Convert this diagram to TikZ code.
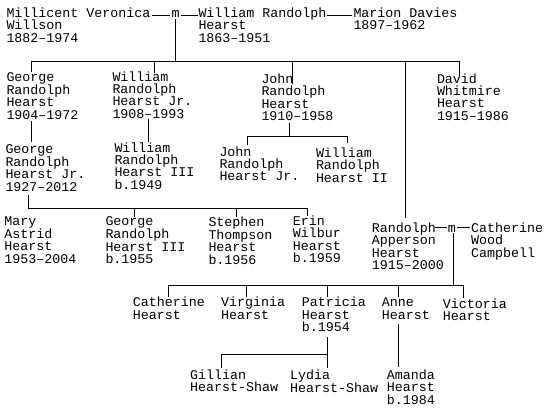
\documentclass[tikz,border=0pt]{standalone}
\usepackage{fontspec}
\newfontfamily\monofam{Liberation Mono}
\newcommand\st{\rule{0pt}{10pt}}
\tikzset{
  person/.style={anchor=north west, inner sep=0pt, outer sep=0pt, align=left,
    font=\monofam\fontsize{13.33}{12.4}\selectfont},
  link/.style={line width=1pt, line join=miter},
}
\begin{document}
\begin{tikzpicture}[x=1pt,y=-1pt]
\useasboundingbox[fill=white] (0,0) rectangle (550,413);
% generation 1
\node[person] (millicent) at (6.5,7.5) {\st Millicent Veronica\\Willson\\1882–1974};
\node[person] (m1) at (171.5,7.5) {\st m};
\node[person] (william) at (198.5,7.5) {\st William Randolph\\Hearst\\1863–1951};
\node[person] (marion) at (353.5,7.5) {\st Marion Davies\\1897–1962};
% generation 2
\node[person] (george) at (6.5,71) {\st George\\Randolph\\Hearst\\1904–1972};
\node[person] (williamjr) at (112.5,71) {\st William\\Randolph\\Hearst Jr.\\1908–1993};
\node[person] (john) at (261.5,73.5) {\st John\\Randolph\\Hearst\\1910–1958};
\node[person] (david) at (437,73) {\st David\\Whitmire\\Hearst\\1915–1986};
% generation 3
\node[person] (georgejr) at (5.5,143) {\st George\\Randolph\\Hearst Jr.\\1927–2012};
\node[person] (williamiii) at (114.5,142) {\st William\\Randolph\\Hearst III\\b.1949};
\node[person] (johnjr) at (219.5,146) {\st John\\Randolph\\Hearst Jr.};
\node[person] (williamii) at (316,147.5) {\st William\\Randolph\\Hearst II};
\node[person] (randolph) at (371.8,222.3) {\st Randolph\\Apperson\\Hearst\\1915–2000};
\node[person] (m2) at (447.8,222.3) {\st m};
\node[person] (catherinewc) at (471.2,222.3) {\st Catherine\\Wood\\Campbell};
% generation 4
\node[person] (mary) at (4.5,215) {\st Mary\\Astrid\\Hearst\\1953–2004};
\node[person] (georgeiii) at (105.5,215.5) {\st George\\Randolph\\Hearst III\\b.1955};
\node[person] (stephen) at (208.5,216) {\st Stephen\\Thompson\\Hearst\\b.1956};
\node[person] (erin) at (292.8,215.5) {\st Erin\\Wilbur\\Hearst\\b.1959};
\node[person] (catherine) at (132.8,296.7) {\st Catherine\\Hearst};
\node[person] (virginia) at (221.2,296.7) {\st Virginia\\Hearst};
\node[person] (patricia) at (301.8,296.7) {\st Patricia\\Hearst\\b.1954};
\node[person] (anne) at (381.8,296.7) {\st Anne\\Hearst};
\node[person] (victoria) at (442.8,298.3) {\st Victoria\\Hearst};
% generation 5
\node[person] (gillian) at (190.2,369.3) {\st Gillian\\Hearst-Shaw};
\node[person] (lydia) at (290.2,369.3) {\st Lydia\\Hearst-Shaw};
\node[person] (amanda) at (386.8,369.3) {\st Amanda\\Hearst\\b.1984};

% junction coordinates
\coordinate (bar1w) at (31,61.5);
\coordinate (bar1e) at (459,61.5);
\coordinate (bar2w) at (247,136);
\coordinate (bar2e) at (347,136);
\coordinate (bar3w) at (28.5,208.7);
\coordinate (bar3e) at (307,208.7);
\coordinate (bar4w) at (168.3,285.7);
\coordinate (bar4e) at (463.3,285.7);
\coordinate (bar5w) at (221.7,354);
\coordinate (bar5e) at (327.7,354);

% marriages
\draw[link] (152,15) -- (170,15);
\draw[link] (181,15) -- (197.5,15);
\draw[link] (327,15) -- (352,15);
\draw[link] (435,227.5) -- (446.8,227.5);
\draw[link] (456.8,227.5) -- (469.5,227.5);

% William + Millicent -> children
\draw[link] (175.7,19) -- (175.7,61.5);
\draw[link] (31,72) -- (bar1w) -- (bar1e) -- (459,76);
\draw[link] (154,61.5) -- (154,72.5);
\draw[link] (292,61.5) -- (292,84);
\draw[link] (405,61.5) -- (405,218);

% George -> George Jr.
\draw[link] (31,121) -- (31,142);
% William Jr. -> William III
\draw[link] (148,119) -- (148,142);
% John -> children
\draw[link] (289,123) -- (289,136);
\draw[link] (247,145) -- (bar2w) -- (bar2e) -- (347,143);

% George Jr. -> children
\draw[link] (28.5,195) -- (bar3w) -- (bar3e) -- (307,216);
\draw[link] (134.3,208.7) -- (134.3,217);
\draw[link] (236.7,208.7) -- (236.7,217);

% Randolph + Catherine -> children
\draw[link] (453.5,233) -- (453.5,285.7);
\draw[link] (168.3,296.7) -- (bar4w) -- (bar4e) -- (463.3,298);
\draw[link] (246,285.7) -- (246,296.7);
\draw[link] (327.7,285.7) -- (327.7,297);
\draw[link] (398.3,285.7) -- (398.3,296.7);

% Patricia -> children
\draw[link] (327.7,336.7) -- (bar5e);
\draw[link] (221.7,368) -- (bar5w) -- (bar5e) -- (327.7,368);
% Anne -> Amanda
\draw[link] (398.3,323.5) -- (398.3,367.3);
\end{tikzpicture}
\end{document}
